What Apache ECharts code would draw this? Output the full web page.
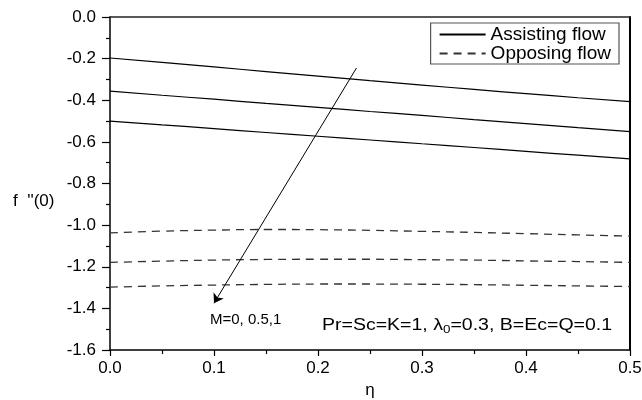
<!DOCTYPE html>
<html>
<head>
<meta charset="utf-8">
<script src="https://cdn.jsdelivr.net/npm/echarts@6/dist/echarts.min.js"></script>
<style>html,body{margin:0;padding:0;background:#fff}#c{width:642px;height:400px}</style>
</head>
<body>
<div id="c"></div>
<script>
// x positions (eta)
var etaValues = [0, 0.05, 0.1, 0.15, 0.2, 0.25, 0.3, 0.35, 0.4, 0.45, 0.5];
// Assisting flow, M = 0, 0.5, 1
var assistM0  = [-0.197, -0.218, -0.240, -0.262, -0.284, -0.306, -0.327, -0.348, -0.368, -0.388, -0.407];
var assistM05 = [-0.356, -0.376, -0.395, -0.415, -0.434, -0.454, -0.473, -0.493, -0.512, -0.532, -0.551];
var assistM1  = [-0.500, -0.518, -0.536, -0.555, -0.573, -0.591, -0.609, -0.627, -0.646, -0.664, -0.682];
// Opposing flow, M = 0, 0.5, 1
var opposeM0  = [-1.037, -1.029, -1.024, -1.021, -1.022, -1.025, -1.030, -1.035, -1.041, -1.047, -1.053];
var opposeM05 = [-1.179, -1.173, -1.168, -1.165, -1.164, -1.164, -1.166, -1.168, -1.172, -1.175, -1.179];
var opposeM1  = [-1.298, -1.292, -1.288, -1.285, -1.283, -1.283, -1.284, -1.286, -1.289, -1.292, -1.295];
// arrow showing increasing M
var arrowStart = [0.237, -0.245];
var arrowEnd = [0.100, -1.375];
var legendNames = ['Assisting flow', 'Opposing flow'];
var xTicks = {min: 0, max: 0.5, step: 0.1};
var yTicks = {min: -1.6, max: 0, step: 0.2};

function pairs(ys) { return etaValues.map(function (x, i) { return [x, ys[i]]; }); }
var FONT = '"Liberation Sans", Arial, sans-serif';

var chart = echarts.init(document.getElementById('c'), null, {renderer: 'canvas'});
function lineSeries(name, ys, dashed) {
  return {
    type: 'line', name: name, data: pairs(ys), symbol: 'none', showSymbol: false, smooth: true,
    legendIcon: 'path://M0,0',
    lineStyle: {color: dashed ? '#333' : '#000', width: dashed ? 1.3 : 1.2, type: dashed ? [8, 6] : 'solid'},
    itemStyle: {color: dashed ? '#333' : '#000'},
    animation: false, silent: true
  };
}
var s0 = lineSeries(legendNames[0], assistM0, false);
s0.markLine = {
  silent: true, symbol: ['none', 'arrow'], symbolSize: 9, animation: false,
  label: {show: false},
  lineStyle: {color: '#000', width: 1, type: 'solid'},
  data: [[{coord: arrowStart}, {coord: arrowEnd}]]
};
chart.setOption({
  animation: false,
  grid: {left: 110, right: 12, top: 17, bottom: 50, containLabel: false, outerBoundsMode: 'none'},
  legend: {
    data: legendNames, orient: 'vertical', right: 23, top: 23,
    itemWidth: 46, itemHeight: 10, itemGap: 0, itemTextGap: 8,
    itemStyle: {opacity: 0},
    padding: [2, 8, 1, 8], borderColor: '#555', borderWidth: 1.2,
    textStyle: {fontFamily: FONT, fontSize: 19, color: '#000', lineHeight: 19},
    selectedMode: false
  },
  xAxis: [{
    type: 'value', min: xTicks.min, max: xTicks.max, interval: xTicks.step,
    axisLine: {show: true, onZero: false, lineStyle: {color: '#000', width: 1.5}},
    axisTick: {show: true, inside: false, length: 6, lineStyle: {color: '#000', width: 1.2}},
    minorTick: {show: true, splitNumber: 2, length: 4, lineStyle: {color: '#000', width: 1.2}},
    splitLine: {show: false},
    axisLabel: {margin: 10, fontFamily: FONT, fontSize: 17, color: '#000', formatter: function (v) { return v.toFixed(1); }},
    name: 'η', nameLocation: 'middle', nameGap: 30,
    nameTextStyle: {fontFamily: FONT, fontSize: 17, color: '#000'}
  }, {
    type: 'value', position: 'top', min: xTicks.min, max: xTicks.max,
    axisLine: {show: true, onZero: false, lineStyle: {color: '#222', width: 1.5}},
    axisTick: {show: false}, axisLabel: {show: false}, splitLine: {show: false}
  }],
  yAxis: [{
    type: 'value', min: yTicks.min, max: yTicks.max, interval: yTicks.step,
    axisLine: {show: true, onZero: false, lineStyle: {color: '#000', width: 1.5}},
    axisTick: {show: true, inside: false, length: 8, lineStyle: {color: '#000', width: 1.2}},
    minorTick: {show: true, splitNumber: 2, length: 4, lineStyle: {color: '#000', width: 1.2}},
    splitLine: {show: false},
    axisLabel: {margin: 14, fontFamily: FONT, fontSize: 17, color: '#000', formatter: function (v) { return v.toFixed(1); }}
  }, {
    type: 'value', position: 'right', min: yTicks.min, max: yTicks.max,
    axisLine: {show: true, onZero: false, lineStyle: {color: '#000', width: 2}},
    axisTick: {show: false}, axisLabel: {show: false}, splitLine: {show: false}
  }],
  series: [
    s0,
    lineSeries(legendNames[0], assistM05, false),
    lineSeries(legendNames[0], assistM1, false),
    lineSeries(legendNames[1], opposeM0, true),
    lineSeries(legendNames[1], opposeM05, true),
    lineSeries(legendNames[1], opposeM1, true)
  ],
  graphic: [
    {type: 'text', left: 13, top: 193, style: {text: "f  ''(0)", font: '17px ' + FONT, fill: '#000'}},
    {type: 'text', left: 210, top: 312, style: {text: 'M=0, 0.5,1', font: '15px ' + FONT, fill: '#000'}},
    {type: 'text', left: 322, top: 318, scaleX: 1.22, style: {
      text: '{n|Pr=Sc=K=1, λ}{s|0}{n|=0.3, B=Ec=Q=0.1}',
      rich: {
        n: {fontFamily: FONT, fontSize: 16, fill: '#000', color: '#000'},
        s: {fontFamily: FONT, fontSize: 11, fill: '#000', color: '#000', padding: [8, 0, 0, 0]}
      }
    }}
  ]
});
</script>
</body>
</html>
